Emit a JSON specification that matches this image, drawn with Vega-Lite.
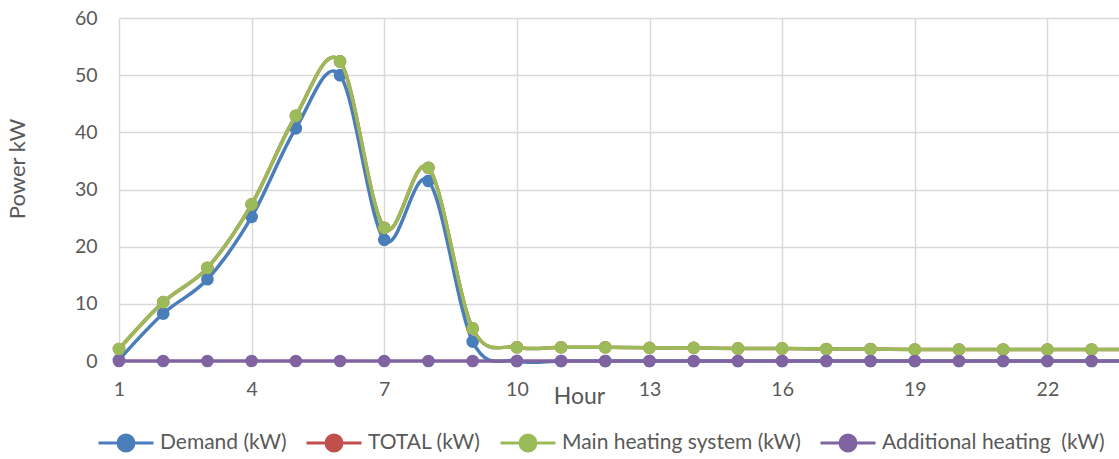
{
  "$schema": "https://vega.github.io/schema/vega-lite/v6.json",
  "width": 1000,
  "height": 343,
  "autosize": {"type": "none"},
  "padding": {"left": 119, "top": 18, "right": 0, "bottom": 98},
  "background": "white",
  "config": {
    "view": {"stroke": null},
    "font": "Lato"
  },
  "data": {
    "values": [
      {"hour": 1, "series": "Demand (kW)", "value": 0.2},
      {"hour": 2, "series": "Demand (kW)", "value": 8.3},
      {"hour": 3, "series": "Demand (kW)", "value": 14.3},
      {"hour": 4, "series": "Demand (kW)", "value": 25.2},
      {"hour": 5, "series": "Demand (kW)", "value": 40.7},
      {"hour": 6, "series": "Demand (kW)", "value": 50.0},
      {"hour": 7, "series": "Demand (kW)", "value": 21.2},
      {"hour": 8, "series": "Demand (kW)", "value": 31.5},
      {"hour": 9, "series": "Demand (kW)", "value": 3.4},
      {"hour": 10, "series": "Demand (kW)", "value": 0},
      {"hour": 11, "series": "Demand (kW)", "value": 0},
      {"hour": 12, "series": "Demand (kW)", "value": 0},
      {"hour": 13, "series": "Demand (kW)", "value": 0},
      {"hour": 14, "series": "Demand (kW)", "value": 0},
      {"hour": 15, "series": "Demand (kW)", "value": 0},
      {"hour": 16, "series": "Demand (kW)", "value": 0},
      {"hour": 17, "series": "Demand (kW)", "value": 0},
      {"hour": 18, "series": "Demand (kW)", "value": 0},
      {"hour": 19, "series": "Demand (kW)", "value": 0},
      {"hour": 20, "series": "Demand (kW)", "value": 0},
      {"hour": 21, "series": "Demand (kW)", "value": 0},
      {"hour": 22, "series": "Demand (kW)", "value": 0},
      {"hour": 23, "series": "Demand (kW)", "value": 0},
      {"hour": 24, "series": "Demand (kW)", "value": 0},
      {"hour": 1, "series": "TOTAL (kW)", "value": 2.1},
      {"hour": 2, "series": "TOTAL (kW)", "value": 10.3},
      {"hour": 3, "series": "TOTAL (kW)", "value": 16.3},
      {"hour": 4, "series": "TOTAL (kW)", "value": 27.4},
      {"hour": 5, "series": "TOTAL (kW)", "value": 42.9},
      {"hour": 6, "series": "TOTAL (kW)", "value": 52.4},
      {"hour": 7, "series": "TOTAL (kW)", "value": 23.3},
      {"hour": 8, "series": "TOTAL (kW)", "value": 33.8},
      {"hour": 9, "series": "TOTAL (kW)", "value": 5.7},
      {"hour": 10, "series": "TOTAL (kW)", "value": 2.4},
      {"hour": 11, "series": "TOTAL (kW)", "value": 2.4},
      {"hour": 12, "series": "TOTAL (kW)", "value": 2.4},
      {"hour": 13, "series": "TOTAL (kW)", "value": 2.3},
      {"hour": 14, "series": "TOTAL (kW)", "value": 2.3},
      {"hour": 15, "series": "TOTAL (kW)", "value": 2.2},
      {"hour": 16, "series": "TOTAL (kW)", "value": 2.2},
      {"hour": 17, "series": "TOTAL (kW)", "value": 2.1},
      {"hour": 18, "series": "TOTAL (kW)", "value": 2.1},
      {"hour": 19, "series": "TOTAL (kW)", "value": 2.0},
      {"hour": 20, "series": "TOTAL (kW)", "value": 2.0},
      {"hour": 21, "series": "TOTAL (kW)", "value": 2.0},
      {"hour": 22, "series": "TOTAL (kW)", "value": 2.0},
      {"hour": 23, "series": "TOTAL (kW)", "value": 2.0},
      {"hour": 24, "series": "TOTAL (kW)", "value": 2.0},
      {"hour": 1, "series": "Main heating system (kW)", "value": 2.1},
      {"hour": 2, "series": "Main heating system (kW)", "value": 10.3},
      {"hour": 3, "series": "Main heating system (kW)", "value": 16.3},
      {"hour": 4, "series": "Main heating system (kW)", "value": 27.4},
      {"hour": 5, "series": "Main heating system (kW)", "value": 42.9},
      {"hour": 6, "series": "Main heating system (kW)", "value": 52.4},
      {"hour": 7, "series": "Main heating system (kW)", "value": 23.3},
      {"hour": 8, "series": "Main heating system (kW)", "value": 33.8},
      {"hour": 9, "series": "Main heating system (kW)", "value": 5.7},
      {"hour": 10, "series": "Main heating system (kW)", "value": 2.4},
      {"hour": 11, "series": "Main heating system (kW)", "value": 2.4},
      {"hour": 12, "series": "Main heating system (kW)", "value": 2.4},
      {"hour": 13, "series": "Main heating system (kW)", "value": 2.3},
      {"hour": 14, "series": "Main heating system (kW)", "value": 2.3},
      {"hour": 15, "series": "Main heating system (kW)", "value": 2.2},
      {"hour": 16, "series": "Main heating system (kW)", "value": 2.2},
      {"hour": 17, "series": "Main heating system (kW)", "value": 2.1},
      {"hour": 18, "series": "Main heating system (kW)", "value": 2.1},
      {"hour": 19, "series": "Main heating system (kW)", "value": 2.0},
      {"hour": 20, "series": "Main heating system (kW)", "value": 2.0},
      {"hour": 21, "series": "Main heating system (kW)", "value": 2.0},
      {"hour": 22, "series": "Main heating system (kW)", "value": 2.0},
      {"hour": 23, "series": "Main heating system (kW)", "value": 2.0},
      {"hour": 24, "series": "Main heating system (kW)", "value": 2.0},
      {"hour": 1, "series": "Additional heating\u00a0 (kW)", "value": 0},
      {"hour": 2, "series": "Additional heating\u00a0 (kW)", "value": 0},
      {"hour": 3, "series": "Additional heating\u00a0 (kW)", "value": 0},
      {"hour": 4, "series": "Additional heating\u00a0 (kW)", "value": 0},
      {"hour": 5, "series": "Additional heating\u00a0 (kW)", "value": 0},
      {"hour": 6, "series": "Additional heating\u00a0 (kW)", "value": 0},
      {"hour": 7, "series": "Additional heating\u00a0 (kW)", "value": 0},
      {"hour": 8, "series": "Additional heating\u00a0 (kW)", "value": 0},
      {"hour": 9, "series": "Additional heating\u00a0 (kW)", "value": 0},
      {"hour": 10, "series": "Additional heating\u00a0 (kW)", "value": 0},
      {"hour": 11, "series": "Additional heating\u00a0 (kW)", "value": 0},
      {"hour": 12, "series": "Additional heating\u00a0 (kW)", "value": 0},
      {"hour": 13, "series": "Additional heating\u00a0 (kW)", "value": 0},
      {"hour": 14, "series": "Additional heating\u00a0 (kW)", "value": 0},
      {"hour": 15, "series": "Additional heating\u00a0 (kW)", "value": 0},
      {"hour": 16, "series": "Additional heating\u00a0 (kW)", "value": 0},
      {"hour": 17, "series": "Additional heating\u00a0 (kW)", "value": 0},
      {"hour": 18, "series": "Additional heating\u00a0 (kW)", "value": 0},
      {"hour": 19, "series": "Additional heating\u00a0 (kW)", "value": 0},
      {"hour": 20, "series": "Additional heating\u00a0 (kW)", "value": 0},
      {"hour": 21, "series": "Additional heating\u00a0 (kW)", "value": 0},
      {"hour": 22, "series": "Additional heating\u00a0 (kW)", "value": 0},
      {"hour": 23, "series": "Additional heating\u00a0 (kW)", "value": 0},
      {"hour": 24, "series": "Additional heating\u00a0 (kW)", "value": 0}
    ]
  },
  "encoding": {
    "x": {
      "field": "hour",
      "type": "quantitative",
      "scale": {"domain": [1, 23.62], "nice": false, "zero": false},
      "axis": {
        "values": [1, 4, 7, 10, 13, 16, 19, 22],
        "grid": true,
        "gridColor": "#d9d9d9",
        "gridWidth": 1.5,
        "domain": false,
        "ticks": false,
        "labelFont": "Lato",
        "labelFontSize": 19.5,
        "labelColor": "#595959",
        "labelPadding": 19,
        "labelFlush": false,
        "title": "Hour",
        "titleFont": "Lato",
        "titleFontSize": 23,
        "titleFontWeight": "normal",
        "titleColor": "#595959",
        "titleX": 460,
        "titleY": 35,
        "titleAlign": "center",
        "titleBaseline": "middle"
      }
    },
    "y": {
      "field": "value",
      "type": "quantitative",
      "scale": {"domain": [0, 60], "nice": false},
      "axis": {
        "values": [0, 10, 20, 30, 40, 50, 60],
        "grid": true,
        "gridColor": "#d9d9d9",
        "gridWidth": 1.5,
        "domain": false,
        "ticks": false,
        "labelFont": "Lato",
        "labelFontSize": 19.5,
        "labelColor": "#595959",
        "labelPadding": 22,
        "title": "Power kW",
        "titleFont": "Lato",
        "titleFontSize": 22,
        "titleFontWeight": "normal",
        "titleColor": "#595959",
        "titleAngle": 270,
        "titleX": -101.5,
        "titleY": 150.5,
        "titleAlign": "center",
        "titleBaseline": "middle"
      }
    },
    "color": {
      "field": "series",
      "type": "nominal",
      "scale": {
        "domain": ["Demand (kW)", "TOTAL (kW)", "Main heating system (kW)", "Additional heating\u00a0 (kW)"],
        "range": ["#4a7ebb", "#c0504d", "#9bbb59", "#8064a2"]
      },
      "legend": {
        "orient": "none",
        "legendX": -22,
        "legendY": 396,
        "direction": "horizontal",
        "title": null,
        "symbolType": "M-1,0L1,0M-0.29,0A0.29,0.29,0,1,0,0.29,0A0.29,0.29,0,1,0,-0.29,0Z",
        "symbolSize": 3025,
        "symbolStrokeWidth": 3,
        "symbolOffset": 0,
        "labelOffset": 5,
        "columnPadding": 13,
        "labelLimit": 500,
        "labelFont": "Lato",
        "labelFontSize": 21,
        "labelColor": "#595959",
        "encode": {
          "symbols": {
            "update": {
              "fill": {"scale": "color", "field": "value"},
              "stroke": {"scale": "color", "field": "value"},
              "strokeWidth": {"value": 3},
              "opacity": {"value": 1}
            }
          }
        }
      }
    }
  },
  "layer": [
    {
      "transform": [{"filter": "datum.series === 'Demand (kW)'"}],
      "mark": {"type": "line", "interpolate": "cardinal", "strokeWidth": 3.5, "point": {"filled": true, "size": 160, "opacity": 1}}
    },
    {
      "transform": [{"filter": "datum.series === 'TOTAL (kW)'"}],
      "mark": {"type": "line", "interpolate": "cardinal", "strokeWidth": 3.5, "point": {"filled": true, "size": 160, "opacity": 1}}
    },
    {
      "transform": [{"filter": "datum.series === 'Main heating system (kW)'"}],
      "mark": {"type": "line", "interpolate": "cardinal", "strokeWidth": 3.5, "point": {"filled": true, "size": 160, "opacity": 1}}
    },
    {
      "transform": [{"filter": "datum.series !== 'Demand (kW)' && datum.series !== 'TOTAL (kW)' && datum.series !== 'Main heating system (kW)'"}],
      "mark": {"type": "line", "interpolate": "cardinal", "strokeWidth": 3.5, "point": {"filled": true, "size": 160, "opacity": 1}}
    }
  ]
}
